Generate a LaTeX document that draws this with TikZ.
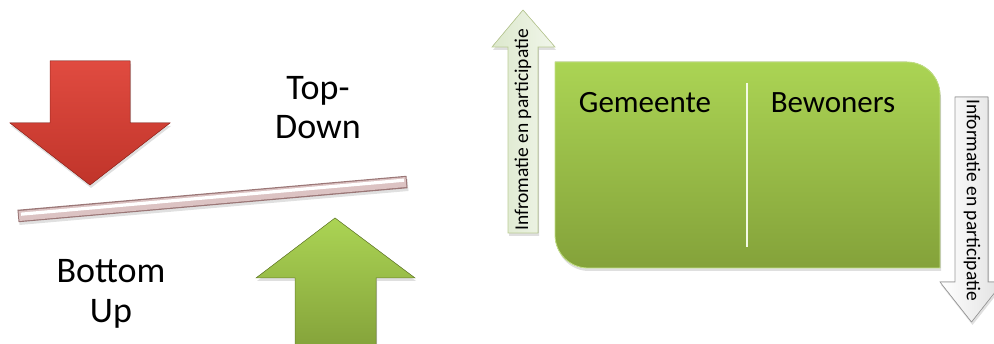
\documentclass[tikz,border=0pt]{standalone}
\usepackage{fontspec}
\setmainfont{Carlito}
\usetikzlibrary{shadows}
\definecolor{redtop}{HTML}{E04B40}
\definecolor{redbot}{HTML}{C0342A}
\definecolor{grtop}{HTML}{ABD454}
\definecolor{grbot}{HTML}{84A23A}
\definecolor{barbot}{HTML}{DCC3C3}
\definecolor{barline}{HTML}{9A7676}
\definecolor{palegreen}{HTML}{DCE8CC}
\begin{document}
\begin{tikzpicture}[x=1pt,y=-1pt,
  softshadow/.style={drop shadow={shadow xshift=1pt,shadow yshift=-3pt,opacity=0.25}},
  bigtext/.style={font=\fontsize{36}{39}\selectfont,align=center},
  boxtext/.style={font=\fontsize{31}{34}\selectfont,anchor=base},
  sidetext/.style={font=\fontsize{19.5}{21}\selectfont}]
\useasboundingbox (0,0) rectangle (994,344);
\clip (0,0) rectangle (994,344);

% red down arrow
\fill[softshadow,top color=redtop,bottom color=redbot,draw=redbot!80!black,line width=0.5pt]
  (50,61) -- (130,61) -- (130,123) -- (170,123) -- (90,185) -- (10,123) -- (50,123) -- cycle;

% green up arrow
\fill[softshadow,top color=grtop,bottom color=grbot,draw=grbot!80!black,line width=0.5pt]
  (335,218) -- (415,278) -- (376,278) -- (376,350) -- (295,350) -- (295,278) -- (256,278) -- cycle;

% bar
\draw[black!30,opacity=0.4,line width=12pt,line cap=butt] (19,219) -- (408,185);
\draw[barline,line width=12.5pt,line cap=butt] (18,216) -- (407,182);
\draw[barbot,line width=10pt,line cap=butt] (19,216) -- (406,182);
\draw[white,line width=3.2pt,line cap=butt] (21,214.2) -- (404,180.2);

% texts left
\node[bigtext] (td) at (318,107.5) {Top-\\Down};
\node[bigtext,font=\fontsize{36}{40}\selectfont] (bu) at (111,294) {Bottom\\Up};

% green box
\fill[softshadow,top color=grtop,bottom color=grbot,draw=grtop!70!white,line width=0.8pt]
  (555,62) -- (907,62) arc[start angle=270,end angle=360,radius=33] -- (940,268)
  -- (588,268) arc[start angle=90,end angle=180,radius=33] -- cycle;
\draw[white!85!grtop,line width=1.6pt] (747,83) -- (747,247);
\node[boxtext] (gem) at (645,113) {Gemeente};
\node[boxtext] (bew) at (833,113) {Bewoners};

% left up arrow
\fill[softshadow,left color=palegreen,right color=palegreen!40!white,
      draw=grbot!55!white,line width=0.6pt]
  (523,10) -- (555,47) -- (538,47) -- (538,233) -- (508,233) -- (508,47) -- (492,47) -- cycle;
\node[sidetext,rotate=90] (lt) at (523,130) {Infromatie en participatie};

% right down arrow
\fill[softshadow,left color=white,right color=black!12,
      draw=black!40,line width=0.6pt]
  (955,97) -- (988,97) -- (988,282) -- (1003,282) -- (971.5,322) -- (940,282) -- (955,282) -- cycle;
\node[sidetext,rotate=-90] (rt) at (972,200) {Informatie en participatie};
\end{tikzpicture}
\end{document}
